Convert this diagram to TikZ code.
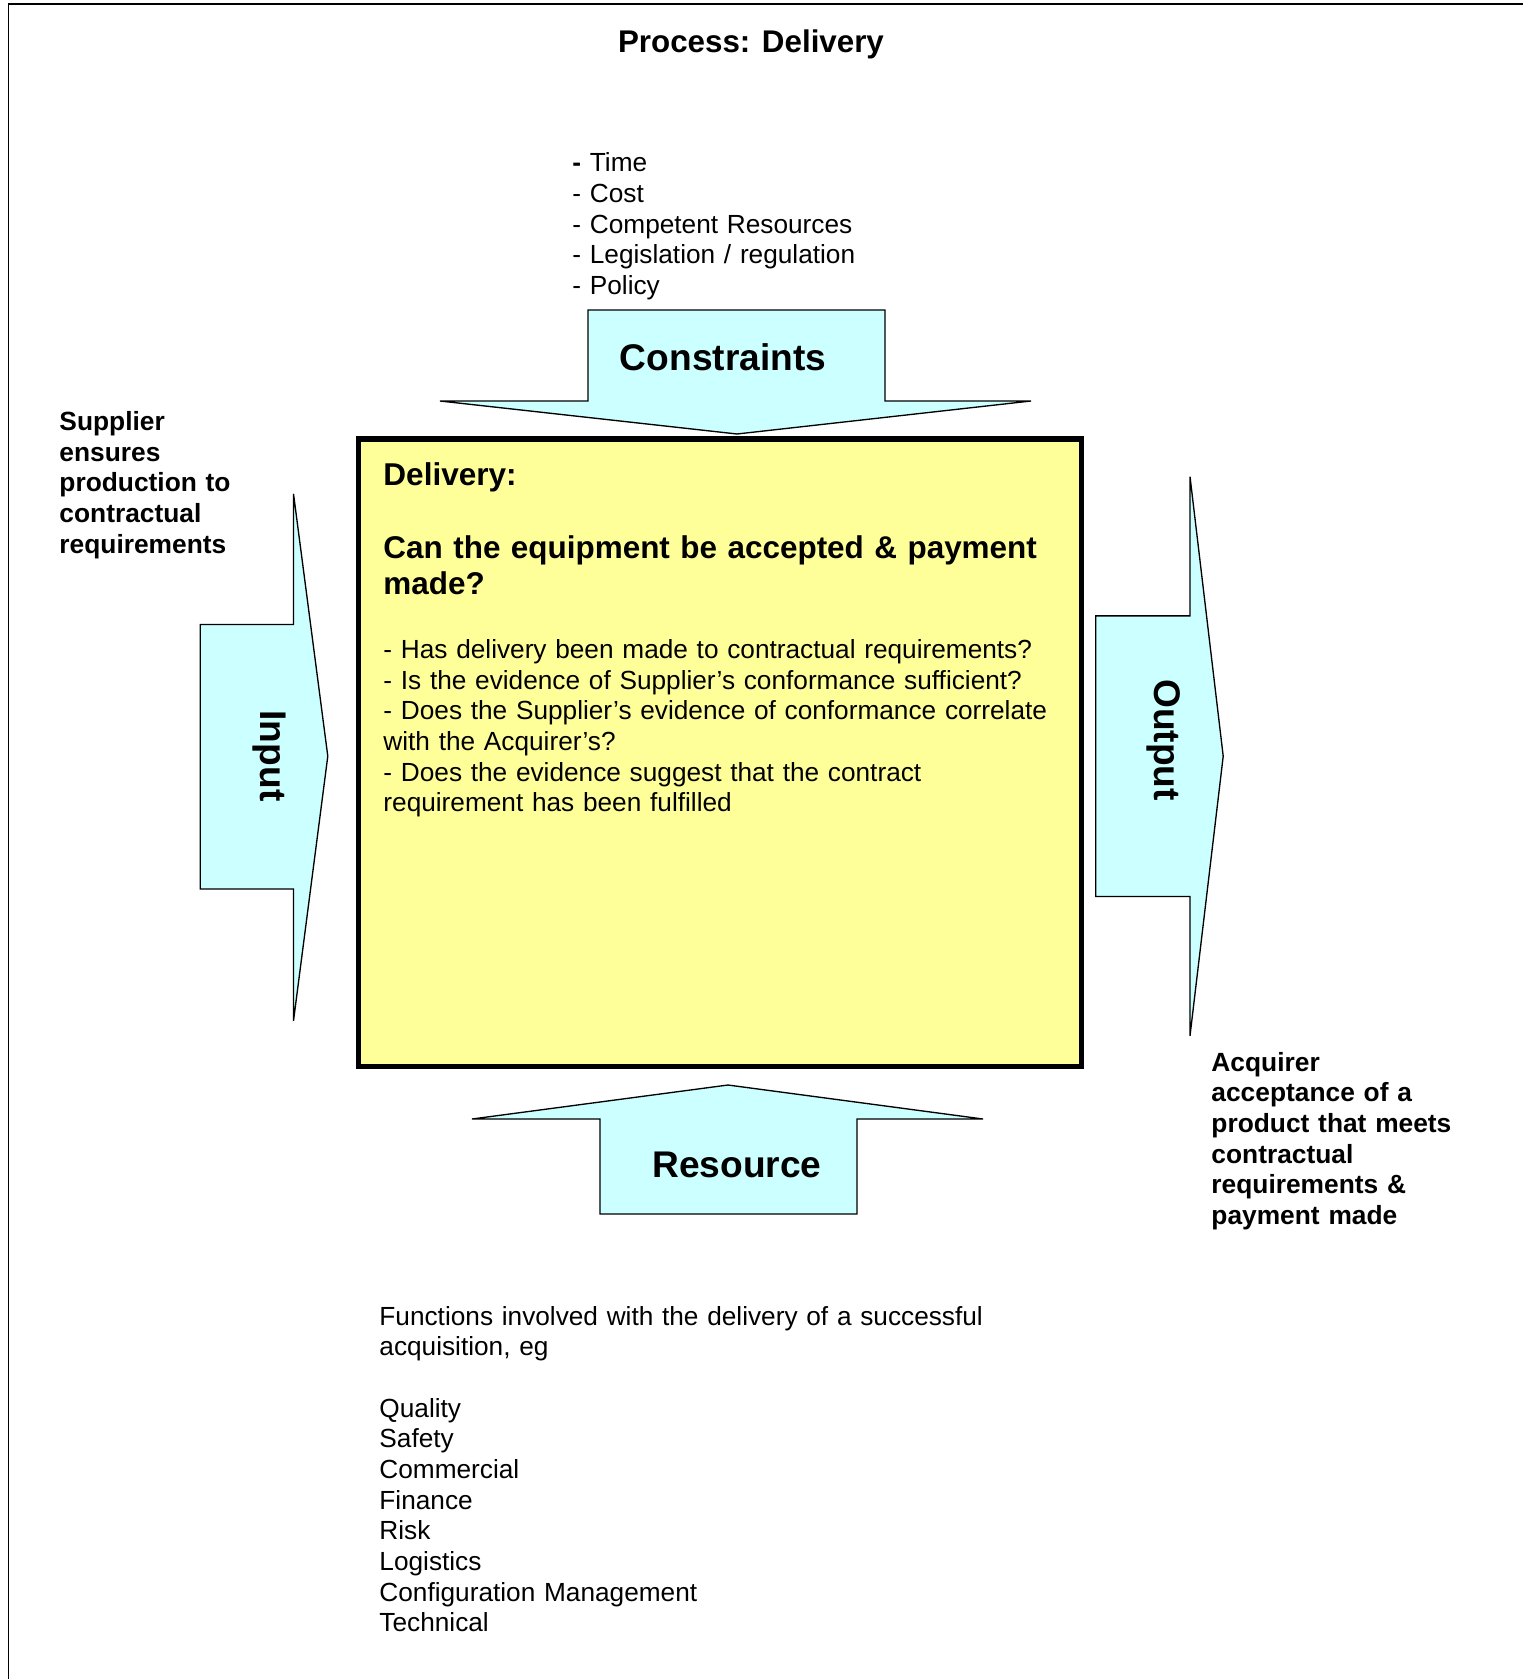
\documentclass[tikz,border=0pt]{standalone}
\usepackage{fontspec}
\setmainfont{Liberation Sans}
\definecolor{boxyellow}{HTML}{FFFF99}
\definecolor{arrowcyan}{HTML}{CCFFFF}
\begin{document}
\begin{tikzpicture}[x=0.45pt, y=-0.45pt,
        bigarrow/.style={draw=black, fill=arrowcyan, line width=0.6pt, line join=miter},
        plaintext/.style={inner sep=0pt, anchor=base west, align=left, font=\fontsize{11.8}{13.8}\selectfont},
        boldtext/.style={plaintext, font=\fontsize{11.85}{13.8}\selectfont\bfseries},
        arrowlabel/.style={inner sep=0pt, font=\fontsize{16.7}{19}\selectfont\bfseries}]
        \useasboundingbox (0,0) rectangle (1523,1679);
        \draw[line width=0.8pt] (8.6,1679) -- (8.6,4.3) -- (1523,4.3);

        \node[inner sep=0pt, anchor=base, font=\fontsize{14.1}{16}\selectfont\bfseries] (title) at (751,53) {Process: Delivery};

        % constraints
        \node[plaintext, text width=160pt] (limits) at (572,172) {\textbf{-} Time\\- Cost\\- Competent Resources\\- Legislation / regulation\\- Policy};
        \draw[bigarrow] (588,401) -- (588,310) -- (885,310) -- (885,401) -- (1031,401) -- (737,434) -- (440,401) -- cycle;
        \node[arrowlabel, anchor=base] (constraints) at (723,370) {Constraints};

        % input
        \node[boldtext, text width=100pt] (supplier) at (59,430.5) {Supplier\\ensures\\production to\\contractual\\requirements};
        \draw[bigarrow] (293.5,624.5) -- (200.3,624.5) -- (200.3,889) -- (293.5,889) -- (293.5,1020.8) -- (327.8,756.2) -- (293.5,493.8) -- cycle;
        \node[arrowlabel, rotate=-90] (input) at (269,756) {Input};

        % delivery box
        \draw[line width=2.4pt, fill=boxyellow] (358.8,439) rectangle (1081.8,1066.8);
        \node[plaintext, font=\fontsize{14.2}{16.6}\selectfont\bfseries] (boxhead) at (383,485.5) {Delivery:};
        \node[plaintext, text width=330pt, font=\fontsize{14.15}{16.6}\selectfont\bfseries] (question) at (383,558) {Can the equipment be accepted \& payment\\made?};
        \node[plaintext, text width=330pt] (checks) at (383,658.5) {- Has delivery been made to contractual requirements?\\- Is the evidence of Supplier’s conformance sufficient?\\- Does the Supplier’s evidence of conformance correlate\\with the Acquirer’s?\\- Does the evidence suggest that the contract\\requirement has been fulfilled};

        % output
        \draw[bigarrow] (1190,615.9) -- (1095.7,615.9) -- (1095.7,896.5) -- (1190,896.5) -- (1190,1035.8) -- (1223.2,756.2) -- (1190,476.6) -- cycle;
        \node[arrowlabel, rotate=-90] (output) at (1164,740) {Output};
        \node[boldtext, text width=120pt] (acquirer) at (1211,1071) {Acquirer\\acceptance of a\\product that meets\\contractual\\requirements \&\\payment made};

        % resource
        \draw[bigarrow] (600,1214) -- (600,1119) -- (472,1119) -- (728,1085) -- (983,1119) -- (857,1119) -- (857,1214) -- cycle;
        \node[arrowlabel, anchor=base] (resource) at (737,1177) {Resource};
        \node[plaintext, text width=330pt] (functions) at (379,1325) {Functions involved with the delivery of a successful\\acquisition, eg\\[13.8pt]Quality\\Safety\\Commercial\\Finance\\Risk\\Logistics\\Configuration Management\\Technical};
\end{tikzpicture}
\end{document}
